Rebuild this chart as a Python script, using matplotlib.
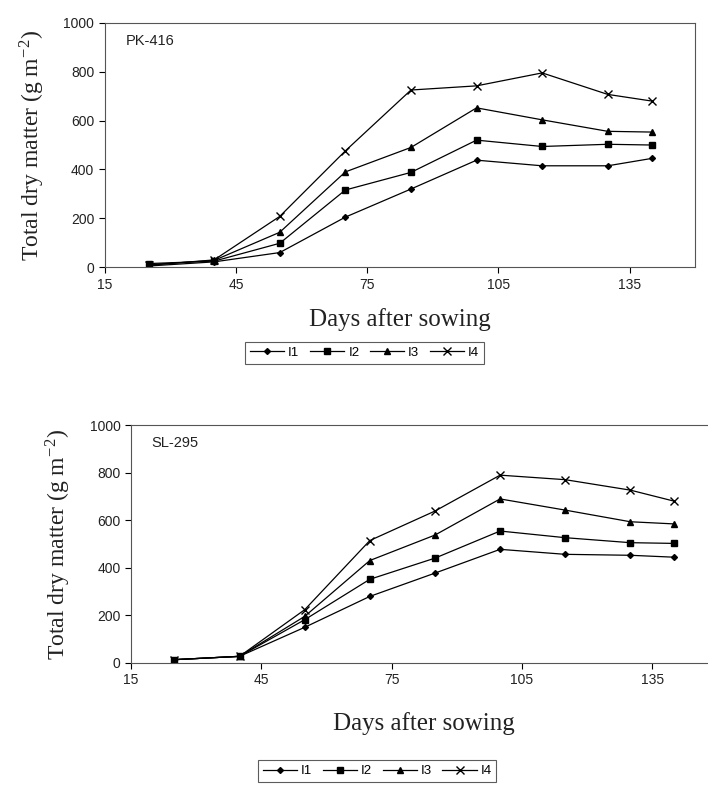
import matplotlib
matplotlib.use('Agg')
import matplotlib.pyplot as plt

plt.rcParams['mathtext.fontset'] = 'stix'

days = [25, 40, 55, 70, 85, 100, 115, 130, 140]
series_names = ['I1', 'I2', 'I3', 'I4']

# PK-416
pk_i1 = [5, 22, 60, 205, 320, 438, 415, 415, 445]
pk_i2 = [15, 25, 98, 316, 388, 520, 494, 503, 500]
pk_i3 = [10, 28, 143, 390, 490, 652, 603, 556, 553]
pk_i4 = [8, 30, 208, 476, 725, 742, 795, 707, 680]

# SL-295
sl_i1 = [14, 28, 150, 280, 378, 478, 457, 453, 445]
sl_i2 = [14, 28, 182, 352, 441, 555, 527, 506, 503]
sl_i3 = [14, 28, 196, 431, 538, 690, 643, 594, 585]
sl_i4 = [14, 28, 224, 515, 639, 790, 771, 727, 681]

x_ticks = [15, 45, 75, 105, 135]
y_ticks = [0, 200, 400, 600, 800, 1000]
markers = ['D', 's', '^', 'x']
msizes = [3, 4, 4, 6]

serif = ['Liberation Serif', 'DejaVu Serif']
sans = ['Liberation Sans', 'DejaVu Sans']


def draw_panel(ax, data, name, legend_pos, xpad):
    for vals, lab, mk, ms in zip(data, series_names, markers, msizes):
        ax.plot(days, vals, color='black', linewidth=0.9, marker=mk,
                markersize=ms, markeredgewidth=1.0, label=lab)
    ax.set_xlim(15, 150)
    ax.set_ylim(0, 1000)
    ax.set_xticks(x_ticks)
    ax.set_yticks(y_ticks)
    ax.tick_params(direction='out', length=4, width=0.8, labelsize=10)
    for t in ax.get_xticklabels() + ax.get_yticklabels():
        t.set_family(sans)
        t.set_color('#222222')
    for s in ax.spines.values():
        s.set_color('#555555')
        s.set_linewidth(0.8)
    ax.text(0.035, 0.91, name, transform=ax.transAxes, fontsize=10.5,
            family=sans, color='#222222')
    ax.set_ylabel('Total dry matter (g m$^{\\mathregular{-2}}$)', family=serif,
                  fontsize=17, color='#222222', labelpad=12)
    ax.set_xlabel('Days after sowing', family=serif, fontsize=18,
                  color='#222222', labelpad=xpad)
    leg = ax.legend(loc='center', bbox_to_anchor=legend_pos, ncol=4,
                    frameon=True, fancybox=False,
                    handlelength=2.6, handletextpad=0.3, columnspacing=0.8,
                    borderpad=0.35, prop={'family': sans, 'size': 9.5})
    leg.get_frame().set_edgecolor('#333333')
    leg.get_frame().set_linewidth(0.8)


fig = plt.figure(figsize=(7.08, 7.86), dpi=100)

ax1 = fig.add_axes([0.148, 0.660, 0.834, 0.311])
draw_panel(ax1, [pk_i1, pk_i2, pk_i3, pk_i4], 'PK-416', (0.44, -0.35), 12)

ax2 = fig.add_axes([0.185, 0.1565, 0.828, 0.3025])
draw_panel(ax2, [sl_i1, sl_i2, sl_i3, sl_i4], 'SL-295', (0.42, -0.455), 18)

fig.savefig('out.png', dpi=100)
